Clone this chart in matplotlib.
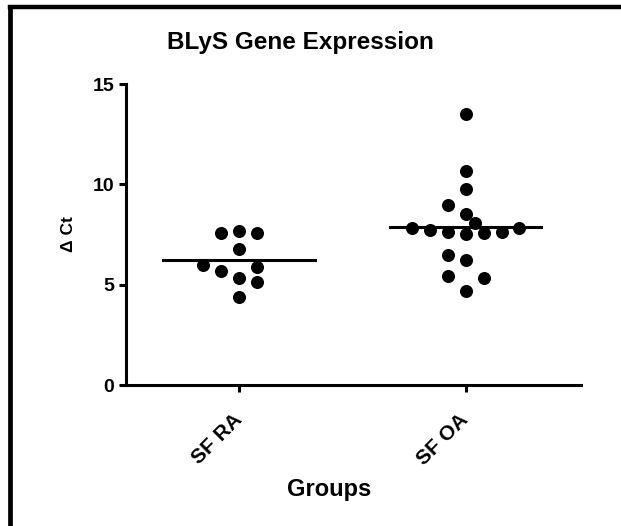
import numpy as np
import matplotlib
matplotlib.use('Agg')
import matplotlib.pyplot as plt
from matplotlib.lines import Line2D

plt.rcParams['font.family'] = ['Liberation Sans', 'DejaVu Sans']
plt.rcParams['font.weight'] = 'bold'

groups = ['SF RA', 'SF OA']

# delta Ct values
sf_ra = [7.6, 7.7, 7.6, 6.8, 6.0, 5.7, 5.9, 5.35, 5.15, 4.4]
sf_oa = [13.5, 10.65, 9.75, 8.97, 8.52, 8.05, 7.83, 7.72, 7.65, 7.55,
         7.58, 7.65, 7.8, 6.5, 6.23, 5.42, 5.35, 4.67]

# column slot of each dot in the scatter (layout only)
ra_slots = [-1, 0, 1, 0, -2, -1, 1, 0, 1, 0]
oa_slots = [0, 0, 0, -1, 0, 0.5, -3, -2, -1, 0, 1, 2, 3, -1, 0, -1, 1, 0]

slot_w = 0.0794
half_line = 0.335

fig = plt.figure(figsize=(6.21, 5.26), dpi=100)
ax = fig.add_axes([0.2029, 0.268, 0.7327, 0.5723])

for i, (vals, slots) in enumerate([(sf_ra, ra_slots), (sf_oa, oa_slots)]):
    pos = i + 1
    xs = pos + np.array(slots) * slot_w
    ax.scatter(xs, vals, s=88, color='black', zorder=3, linewidths=0)
    m = np.mean(vals)
    ax.plot([pos - half_line, pos + half_line], [m, m], color='black', linewidth=2.2, zorder=4)

ax.set_xlim(0.5, 2.51)
ax.set_ylim(0, 15)
ax.set_yticks([0, 5, 10, 15])
ax.set_xticks([1, 2])
ax.set_xticklabels(groups, rotation=45, ha='right', va='center', rotation_mode='anchor',
                   fontsize=15)

for s in ['top', 'right']:
    ax.spines[s].set_visible(False)
for s in ['left', 'bottom']:
    ax.spines[s].set_linewidth(2.2)
ax.tick_params(axis='both', width=2.2, length=5, labelsize=14)
ax.tick_params(axis='x', pad=18, labelsize=15)

ax.set_ylabel('Δ Ct', fontsize=12.5, fontweight='bold')
ax.yaxis.set_label_coords(-0.11, 0.5)
ax.set_xlabel('Groups', fontsize=17, fontweight='bold')
ax.xaxis.set_label_coords((329 - 126) / 455, -0.31)

fig.text(300 / 621, 1 - 42 / 526, 'BLyS Gene Expression', fontsize=17.5,
         fontweight='bold', ha='center', va='center')

# frame around the graph (left and top edges visible)
fig.add_artist(Line2D([9.5 / 621, 9.5 / 621], [0, 1 - 7 / 526], transform=fig.transFigure,
                      color='black', linewidth=3.4, solid_capstyle='projecting'))
fig.add_artist(Line2D([9.5 / 621, 1], [1 - 7 / 526, 1 - 7 / 526], transform=fig.transFigure,
                      color='black', linewidth=3.2, solid_capstyle='projecting'))

fig.savefig('out.png', dpi=100)
